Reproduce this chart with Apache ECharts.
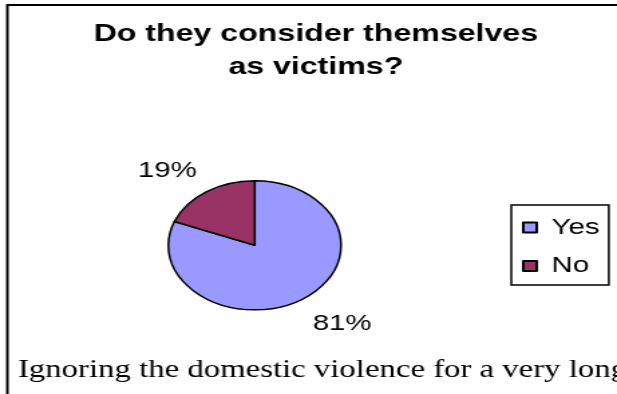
<!DOCTYPE html>
<html>
<head>
<meta charset="utf-8">
<script src="https://cdn.jsdelivr.net/npm/echarts@6/dist/echarts.min.js"></script>
<style>
  html, body { margin: 0; padding: 0; background: #fff; overflow: hidden; }
  /* the page is laid out at its natural width and widened to fill the window */
  #page { width: 461px; height: 394px; transform: scaleX(1.3384); transform-origin: 0 0; }
</style>
</head>
<body>
<div id="page"></div>
<script>
// Survey answers
const categories = ['Yes', 'No'];
const shares = [81, 19];           // percent of respondents
const chartTitle = 'Do they consider themselves\nas victims?';
const bodyLine = 'Ignoring the domestic violence for a very long';

const sliceColors = ['#9999FF', '#993366'];
const sans = '"Liberation Sans", Arial, sans-serif';
const serif = '"Liberation Serif", "Times New Roman", serif';

const chart = echarts.init(document.getElementById('page'));

chart.setOption({
  backgroundColor: '#ffffff',
  animation: false,
  color: sliceColors,
  title: {
    text: chartTitle,
    left: 236,
    top: 17.5,
    padding: 0,
    textAlign: 'center',
    textStyle: {
      fontFamily: sans,
      fontSize: 24,
      fontWeight: 'bold',
      lineHeight: 33,
      color: '#000'
    }
  },
  legend: {
    orient: 'vertical',
    left: 382,
    top: 205,
    icon: 'rect',
    itemWidth: 10,
    itemHeight: 10,
    itemGap: 16.5,
    padding: [11.5, 7, 8, 8],
    borderColor: '#000',
    borderWidth: 1.5,
    selectedMode: false,
    data: categories,
    textStyle: {
      fontFamily: sans,
      fontSize: 22,
      lineHeight: 22,
      color: '#000',
      padding: [0, 0, 0, 6]
    }
  },
  graphic: [
    { // frame: top rule
      type: 'line',
      silent: true,
      shape: { x1: 5.5, y1: 5, x2: 461, y2: 5 },
      style: { stroke: '#000', lineWidth: 2 }
    },
    { // frame: left rule
      type: 'line',
      silent: true,
      shape: { x1: 5.5, y1: 4, x2: 5.5, y2: 394 },
      style: { stroke: '#000', lineWidth: 2 }
    },
    { // running text below the figure
      type: 'text',
      silent: true,
      x: 13.4,
      y: 370.5,
      style: {
        text: bodyLine,
        font: '24.5px ' + serif,
        fill: '#000',
        align: 'left',
        verticalAlign: 'middle'
      }
    }
  ],
  series: [{
    type: 'pie',
    center: [190.3, 245.3],
    radius: 64.5,
    startAngle: 90,
    clockwise: true,
    avoidLabelOverlap: false,
    silent: true,
    data: categories.map((name, i) => ({ name: name, value: shares[i] })),
    itemStyle: { borderColor: '#000', borderWidth: 1.5 },
    label: {
      show: true,
      position: 'outside',
      formatter: '{c}%',
      fontFamily: sans,
      fontSize: 22,
      color: '#000',
      distanceToLabelLine: 0
    },
    labelLine: { show: false, length: 12.6, length2: 0 },
    labelLayout: function (p) {
      const labelMid = p.labelRect.y + p.labelRect.height / 2;
      const sliceMid = p.rect.y + p.rect.height / 2;
      return { dy: labelMid < sliceMid ? -11 : 15 };
    }
  }]
});
</script>
</body>
</html>
